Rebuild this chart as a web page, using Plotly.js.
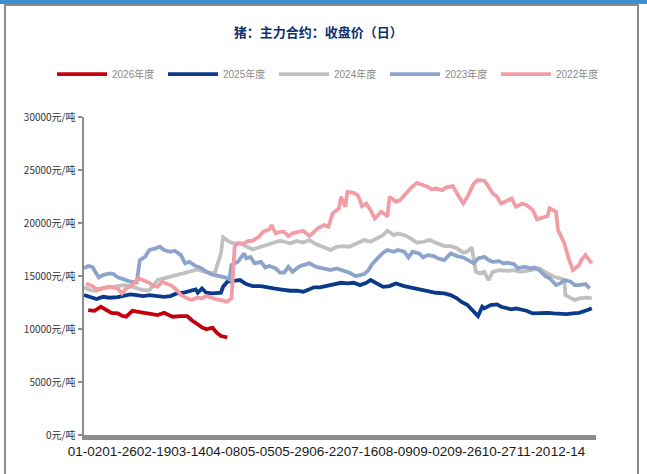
<!DOCTYPE html>
<html>
<head>
<meta charset="utf-8">
<script src="https://cdn.plot.ly/plotly-3.0.1.min.js"></script>
<style>
  html, body { margin: 0; padding: 0; background: #fff; }
  #wrap { position: relative; width: 647px; height: 474px; overflow: hidden; }
  #chart { position: absolute; left: 0; top: 0; width: 647px; height: 474px; }
  #topbar { position: absolute; left: 0; top: 0; width: 647px; height: 4px; background: #3a8fd4; pointer-events: none; }
  #frame { position: absolute; left: 4px; top: 4px; width: 635px; height: 480px; border: 2.5px solid #8c8c8c; border-bottom: none; pointer-events: none; box-sizing: border-box; }
</style>
</head>
<body>
<div id="wrap">
  <div id="chart"></div>
  <div id="frame"></div>
  <div id="topbar"></div>
</div>
<script>
// ---- data (x = trading-day index within the year) ----
const xLabels = ["01-02","01-26","02-19","03-14","04-08","05-05","05-29","06-22","07-16","08-09","09-02","09-26","10-27","11-20","12-14"];

const x2026 = [2,5,8,11,13,16,18,20,23,25,27,30,32,35,38,40,42,46,49,51,54,56,58,61,63,65,68];
const y2026 = [11790,11720,12100,11790,11530,11470,11250,11160,11720,11630,11570,11470,11410,11320,11530,11320,11160,11220,11220,10850,10370,10150,9970,10120,9650,9340,9210];

const x2025 = [0,3,6,9,12,16,19,22,25,28,31,35,38,41,44,47,50,53,54,56,58,61,65,66,68,71,74,77,80,84,87,90,93,95,98,101,104,107,109,112,115,118,122,125,128,131,134,136,139,142,145,148,152,155,158,161,164,167,171,174,177,179,182,185,187,189,190,193,196,198,201,203,205,208,210,213,216,220,223,226,229,232,235,239,241];
const y2025 = [13200,13040,12830,13040,12950,13000,13110,13270,13200,13110,13200,13110,13040,13110,13360,13420,13580,13740,13420,13830,13420,13360,13420,13980,14460,14550,14620,14240,14050,14050,13980,13830,13740,13670,13610,13610,13520,13740,13930,13930,14050,14140,14360,14300,14360,14140,14360,14620,14300,13980,14050,14300,14050,13930,13830,13670,13610,13420,13360,13200,12890,12570,12260,11630,11220,12100,11950,12260,12320,12100,11950,11850,11950,11850,11720,11470,11530,11530,11470,11410,11410,11470,11530,11790,11950];

const x2024 = [0,3,6,9,12,16,19,22,25,28,31,35,38,41,44,47,50,54,57,60,62,65,66,69,71,74,77,80,84,87,90,93,95,98,101,104,107,110,114,117,120,123,126,129,133,136,139,142,144,147,149,152,155,158,161,164,167,171,174,177,180,182,184,186,188,190,192,194,197,201,204,207,210,213,216,220,223,226,228,228.5,231,233,235,239,241];
const y2024 = [13930,13670,13610,13830,13930,14050,14140,14050,13830,13670,13670,14620,14780,14930,15090,15250,15400,15620,15400,15330,15250,17130,18640,18230,18080,18080,17820,17510,17760,17920,18140,18320,18230,18080,18300,18150,18390,18010,17700,17450,17760,17820,17760,18010,18390,18230,18550,18860,19270,18860,19000,18860,18550,18140,18230,18390,18140,17820,17820,17610,17200,17300,17700,15400,15250,15400,14620,15400,15560,15480,15560,15400,15480,15560,15720,15250,14930,14780,14620,13200,12890,12730,12890,12950,12890];

const x2023 = [0,2,4,7,9,12,14,16,19,22,25,26.5,29,31,34,36,38,41,43,46,48,50,53,55,57,60,62,65,67,69,70,73,76,77,79,81,84,86,88,91,93,95,97,99,102,104,107,110,114,117,120,123,126,129,133,135,137,140,142,144,147,149,152,154,156,159,161,163,166,168,171,174,177,180,182,185,187,190,192,194,197,199,201,204,206,209,212,214,216,219,221,224,226,228,231,233,235,238,240];
const y2023 = [15720,15940,15850,14870,15090,15250,15180,14870,14680,14460,14400,16500,16810,17450,17610,17760,17450,17290,17380,16970,16190,16340,15940,15810,15560,15180,15090,14990,14870,14680,16030,16340,17130,16660,16800,16190,16340,15810,15940,15720,15310,15310,15870,15400,15870,16030,16190,15870,15720,15560,15720,15560,15310,14990,15180,15560,16190,16810,17200,17450,17290,17450,17290,16750,17290,17130,16750,16970,16880,16660,16500,17130,16880,16750,16500,16190,16660,16810,16500,16340,16400,16190,16250,16130,15720,15870,15720,15800,15560,14990,14780,14140,14300,14620,14460,14140,14140,14240,13830];

const x2022 = [1,4,6,9,12,16,18,20,23,26,28,31,33,35,37,39,42,44,46,49,51,54,56,58,61,63,65,68,70,71.5,73,76,78,80,83,85,88,89,91,93,95,97,99,102,104,107,109,111,114,116,118,121,122,124,125,128,130,132,134,136,138,141,143,144,145,148,150,152,155,158,160,163,165,167,170,172,175,176,178,180,182,185,187,190,191,194,196,198,201,203,205,208,210,213,215,217,220,221,224,225,228,230,232,235,236,238,239,241];
const y2022 = [14300,14050,13740,13830,13980,13830,13360,13830,14140,14780,14620,14360,14050,13980,14460,14300,14050,13670,13200,12890,12730,12980,12890,13110,12890,12800,12730,12570,12890,17760,18080,18080,18320,18320,18700,19170,19400,19800,19020,19170,19170,18770,19020,19170,19270,18770,19170,19490,19800,19650,20910,21380,22470,21530,22940,22850,22600,21590,21840,21220,20430,21060,20800,20590,22470,22000,22160,22630,23260,23790,23650,23420,23170,23250,23100,23360,23480,23100,22470,21840,22470,23730,24050,23990,23730,22790,22470,21840,22160,22310,21530,21840,21690,21220,20340,20500,20650,21380,21060,19330,18080,16660,15560,16030,16500,16970,16660,16190];

const series = [
  {name: "2026年度", x: x2026, y: y2026, color: "#c4000c"},
  {name: "2025年度", x: x2025, y: y2025, color: "#0b3a8a"},
  {name: "2024年度", x: x2024, y: y2024, color: "#c0c0c0"},
  {name: "2023年度", x: x2023, y: y2023, color: "#8ca4cc"},
  {name: "2022年度", x: x2022, y: y2022, color: "#f29ca6"}
];

const traces = series.map(s => ({
  type: "scatter", mode: "lines", name: s.name, x: s.x, y: s.y,
  line: {color: s.color, width: 3.8, shape: "linear"},
  hoverinfo: "skip"
}));

const labelStep = 16.37;
const layout = {
  width: 647, height: 474,
  margin: {l: 84, r: 51, t: 117, b: 39, pad: 0},
  paper_bgcolor: "rgba(0,0,0,0)",
  plot_bgcolor: "rgba(0,0,0,0)",
  showlegend: true,
  title: {
    text: "<b>猪：主力合约：收盘价（日）</b>",
    font: {family: "Noto Sans CJK SC", size: 13, color: "#0c2f72"},
    x: 0.492, xanchor: "center", y: 0.932, yanchor: "middle"
  },
  legend: {
    orientation: "h",
    x: -0.0625, xanchor: "left", y: 1.135, yanchor: "middle",
    font: {family: "Liberation Sans, Noto Sans CJK SC", size: 10, color: "#8a8a8a"},
    entrywidth: 46, entrywidthmode: "pixels", itemwidth: 50,
    bgcolor: "rgba(0,0,0,0)", traceorder: "normal"
  },
  xaxis: {
    range: [0, 243], showgrid: false, zeroline: false,
    showline: true, linecolor: "#8c8c8c", linewidth: 5,
    tickmode: "array", tickvals: xLabels.map((_, i) => 0.5 + i * labelStep), ticktext: xLabels,
    ticks: "", tickangle: 0,
    tickfont: {family: "Liberation Sans", size: 13.5, color: "#1a1a1a"},
    fixedrange: true
  },
  yaxis: {
    range: [0, 30000], showgrid: false, zeroline: false,
    showline: true, linecolor: "#8c8c8c", linewidth: 2.5,
    tickmode: "linear", tick0: 0, dtick: 5000,
    ticks: "outside", ticklen: 4, tickwidth: 2, tickcolor: "#8c8c8c",
    ticksuffix: "元/吨", tickformat: "d",
    tickfont: {family: "Noto Sans CJK SC", size: 10, color: "#333"},
    fixedrange: true
  }
};

Plotly.newPlot("chart", traces, layout, {displayModeBar: false, staticPlot: true});
</script>
</body>
</html>
